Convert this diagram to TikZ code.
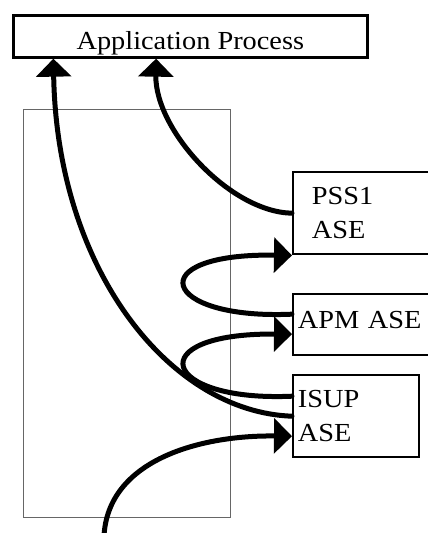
\documentclass[tikz,border=0pt]{standalone}
\usepackage{fontspec}
\setmainfont{Liberation Serif}[FakeStretch=1.09]
\usetikzlibrary{arrows.meta,calc}

\begin{document}
\begin{tikzpicture}[
    x=0.75pt, y=-0.75pt,
    >={Triangle[length=13.5pt,width=26pt]},
    procbox/.style={
        draw,
        line width=2pt,
        anchor=north west,
        font=\fontsize{19.5}{25.5}\selectfont,
        minimum width=265.5pt,
        minimum height=31.5pt,
        inner ysep=0pt,
        text height=23.7pt,
        text depth=4.2pt
    },
    stackbox/.style={
        draw=black!60,
        line width=0.75pt,
        anchor=north west,
        minimum width=155.25pt,
        minimum height=306pt
    },
    asebox/.style={
        draw,
        line width=1.8pt,
        anchor=north west,
        align=left,
        font=\fontsize{19.5}{25.5}\selectfont,
        inner xsep=3.5pt
    },
    arrow/.style={->, line width=3.75pt, line cap=round}
]

\clip (0,0) rectangle (428,533);

% APPLICATION PROCESS
\node[procbox] (app) at (12,14)
{Application Process};

% STACK FRAME
\node[stackbox] (stack) at (23,109) {};

% ASE BOXES
\node[asebox, text width=90pt, inner xsep=14pt, minimum height=61.5pt] (pss) at (292,171)
{PSS1\\ASE};

\node[asebox, text width=110pt, minimum height=45.75pt,
      text height=12.75pt, text depth=7.5pt] (apm) at (292,293)
{APM ASE};

\node[asebox, text width=87.5pt, minimum height=61.5pt] (isup) at (292,374)
{ISUP\\ASE};

% CONNECTORS
\coordinate (feed) at (104,536);

\draw[arrow] (pss.west) .. controls (230,212) and (155,130) .. ($(app.south west)!0.404!(app.south east)$);
\draw[arrow] (isup.west) .. controls (170,412) and (57,270) .. ($(app.south west)!0.116!(app.south east)$);
\draw[arrow] ([yshift=7.9pt]apm.west) .. controls (160,320) and (140,253) .. (pss.south west);
\draw[arrow] ([yshift=15pt]isup.west) .. controls (160,402) and (140,333) .. ([yshift=-7.1pt]apm.west);
\draw[arrow] (feed) .. controls (108,460) and (200,435) .. ([yshift=-15pt]isup.west);

\end{tikzpicture}
\end{document}
